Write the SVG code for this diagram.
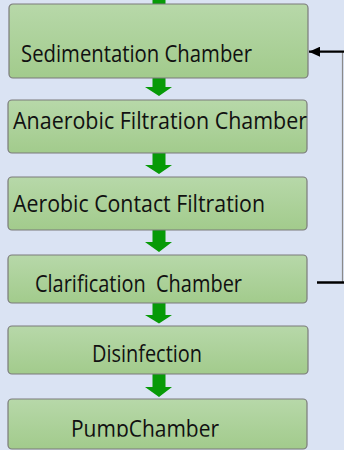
<svg xmlns="http://www.w3.org/2000/svg" width="344" height="450" viewBox="0 0 344 450">
<style>
.box{fill:url(#g);stroke:#7b7b7b;stroke-width:1.2}
.lbl{font-family:"Open Sans","Liberation Sans",Arial,sans-serif;font-size:23.5px;fill:#111;white-space:pre}
.arr{fill:#079a07}
</style>
<defs>
<linearGradient id="g" x1="0" y1="0" x2="0" y2="1">
<stop offset="0" stop-color="#b7d8a9"/>
<stop offset="1" stop-color="#a2cb8c"/>
</linearGradient>
<clipPath id="c6"><rect x="0" y="399" width="344" height="37.8"/></clipPath>
<marker id="ah" markerWidth="12" markerHeight="10" refX="11" refY="5" orient="auto" markerUnits="userSpaceOnUse">
<path d="M0,0 L11,5 L0,10 Z" fill="#000"/>
</marker>
</defs>
<rect width="344" height="450" fill="#dae3f3"/>
<g id="connectors">
<rect class="arr" x="152.5" y="0" width="13" height="4.5"/>
<path class="arr" d="M152.5,78 H165.5 V87 H172 L159,96 L145,87 H152.5 Z"/>
<path class="arr" d="M152.5,153 H165.5 V165 H172 L159,174 L145,165 H152.5 Z"/>
<path class="arr" d="M152.5,230 H165.5 V242 H172 L159,252 L145,242 H152.5 Z"/>
<path class="arr" d="M152.5,303 H165.5 V315 H172 L159,323.5 L145,315 H152.5 Z"/>
<path class="arr" d="M152.5,374 H165.5 V387 H172 L159,397 L145,387 H152.5 Z"/>
<line x1="342.5" y1="51.5" x2="342.5" y2="282.5" stroke="#8a8a8a" stroke-width="1.2"/>
<line x1="317" y1="282.5" x2="344" y2="282.5" stroke="#000" stroke-width="2.5"/>
<line x1="344" y1="51.7" x2="309" y2="51.7" stroke="#000" stroke-width="2.2" marker-end="url(#ah)"/>
</g>
<g id="n1"><rect class="box" x="9" y="4" width="299" height="74" rx="4"/><text class="lbl" x="21" y="61.5" textLength="231" lengthAdjust="spacingAndGlyphs">Sedimentation Chamber</text></g>
<g id="n2"><rect class="box" x="8" y="100" width="299" height="53" rx="4"/><text class="lbl" x="13" y="128.5" textLength="294" lengthAdjust="spacingAndGlyphs">Anaerobic Filtration Chamber</text></g>
<g id="n3"><rect class="box" x="8" y="177" width="299" height="53" rx="4"/><text class="lbl" x="13" y="212" textLength="252" lengthAdjust="spacingAndGlyphs">Aerobic Contact Filtration</text></g>
<g id="n4"><rect class="box" x="8" y="255" width="299" height="48" rx="4"/><text class="lbl" x="35" y="291.5" textLength="207" lengthAdjust="spacingAndGlyphs" xml:space="preserve">Clarification  Chamber</text></g>
<g id="n5"><rect class="box" x="8" y="326" width="300" height="48" rx="4"/><text class="lbl" x="92" y="362" textLength="110" lengthAdjust="spacingAndGlyphs">Disinfection</text></g>
<g id="n6"><rect class="box" x="8" y="399" width="299" height="50" rx="4"/><text class="lbl" x="71" y="436.5" textLength="148" lengthAdjust="spacingAndGlyphs" clip-path="url(#c6)">PumpChamber</text></g>
</svg>
